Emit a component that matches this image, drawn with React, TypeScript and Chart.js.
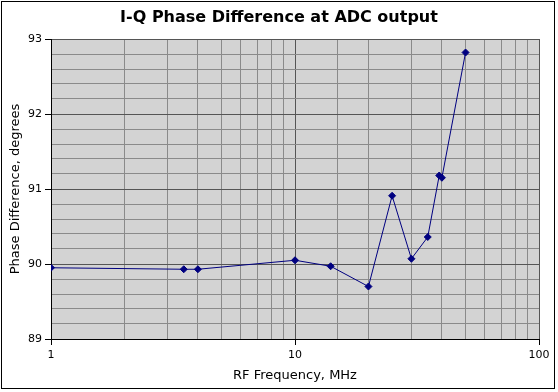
import React, { useEffect, useRef } from "react";
import { Chart, registerables } from "chart.js";

Chart.register(...registerables);

const freqMHz = [1, 3.5, 4, 10, 14, 20, 25, 30, 35, 39, 40, 50];
const phaseDeg = [89.95, 89.93, 89.93, 90.05, 89.97, 89.7, 90.91, 90.07, 90.36, 91.18, 91.15, 92.82];
const xMajorTicks = [1, 10, 100];
const titleText = "I-Q Phase Difference at ADC output";
const xTitle = "RF Frequency, MHz";
const yTitle = "Phase Difference, degrees";

const FONT = "'DejaVu Sans', sans-serif";
const MAJOR = "#555555";
const MINOR = "#8a8a8a";

const isMajorX = (v: number) => xMajorTicks.some((m) => Math.abs(m - v) < 1e-9);
const isMajorY = (v: number) => Math.abs(v - Math.round(v)) < 1e-6;

const plotBg = {
  id: "plotBg",
  beforeDraw(chart: any) {
    const { ctx, chartArea } = chart;
    ctx.save();
    ctx.fillStyle = "#ffffff";
    ctx.fillRect(0, 0, chart.width, chart.height);
    ctx.fillStyle = "#d3d3d3";
    ctx.fillRect(chartArea.left, chartArea.top, chartArea.right - chartArea.left, chartArea.bottom - chartArea.top);
    ctx.restore();
  },
  afterDraw(chart: any) {
    const { ctx } = chart;
    ctx.save();
    ctx.strokeStyle = "#000";
    ctx.lineWidth = 1;
    ctx.strokeRect(1.5, 1.5, 553, 387);
    ctx.fillStyle = "#000";
    ctx.font = `bold 16px ${FONT}`;
    ctx.textAlign = "center";
    ctx.textBaseline = "middle";
    ctx.fillText(titleText, 279, 17.5);
    ctx.restore();
  },
};

export default function App() {
  const ref = useRef<HTMLCanvasElement | null>(null);
  useEffect(() => {
    document.body.style.margin = "0";
    const data = freqMHz.map((f, i) => ({ x: f, y: phaseDeg[i] }));
    const chart = new Chart(ref.current as HTMLCanvasElement, {
      type: "scatter",
      data: {
        datasets: [
          {
            data,
            showLine: true,
            borderColor: "#000080",
            backgroundColor: "#000080",
            borderWidth: 1,
            pointStyle: "rectRot",
            pointRadius: 3.5,
            pointBorderWidth: 1,
            pointBorderColor: "#000080",
          },
        ],
      },
      options: {
        responsive: false,
        animation: false,
        layout: { padding: { left: 0, right: 19, top: 39, bottom: 0 } },
        plugins: {
          legend: { display: false },
          tooltip: { enabled: false },
          title: { display: false },
        },
        scales: {
          x: {
            type: "logarithmic",
            min: 1,
            max: 100,
            border: { display: true, color: "#000", width: 1 },
            grid: {
              color: (c: any) => (isMajorX(c.tick?.value) ? MAJOR : MINOR),
              tickColor: (c: any) => (isMajorX(c.tick?.value) ? "#000" : "rgba(0,0,0,0)"),
              tickLength: 6,
              drawTicks: true,
            },
            ticks: {
              autoSkip: false,
              maxRotation: 0,
              padding: 4,
              color: "#000",
              font: { family: FONT, size: 11 },
              callback: (v: any) => (isMajorX(Number(v)) ? String(Number(v)) : ""),
            },
            title: {
              display: true,
              text: xTitle,
              color: "#000",
              font: { family: FONT, size: 13 },
              padding: { top: 0, bottom: 9 },
            },
            afterFit: (s: any) => {
              s.height = 53;
            },
          } as any,
          y: {
            type: "linear",
            min: 89,
            max: 93,
            border: { display: true, color: "#000", width: 1 },
            grid: {
              color: (c: any) => (isMajorY(c.tick?.value) ? MAJOR : MINOR),
              tickColor: (c: any) => (isMajorY(c.tick?.value) ? "#000" : "rgba(0,0,0,0)"),
              tickLength: 6,
            },
            ticks: {
              stepSize: 0.2,
              autoSkip: false,
              padding: 3,
              color: "#000",
              font: { family: FONT, size: 11 },
              callback: (v: any) => (isMajorY(Number(v)) ? String(Math.round(Number(v))) : ""),
            },
            title: {
              display: true,
              text: yTitle,
              color: "#000",
              font: { family: FONT, size: 13 },
              padding: { top: 7.6, bottom: 0 },
            },
            afterFit: (s: any) => {
              s.width = 51;
            },
          } as any,
        },
      },
      plugins: [plotBg],
    });
    return () => chart.destroy();
  }, []);
  return (
    <div style={{ width: 558, height: 392 }}>
      <canvas ref={ref} width={558} height={392} style={{ display: "block" }} />
    </div>
  );
}
